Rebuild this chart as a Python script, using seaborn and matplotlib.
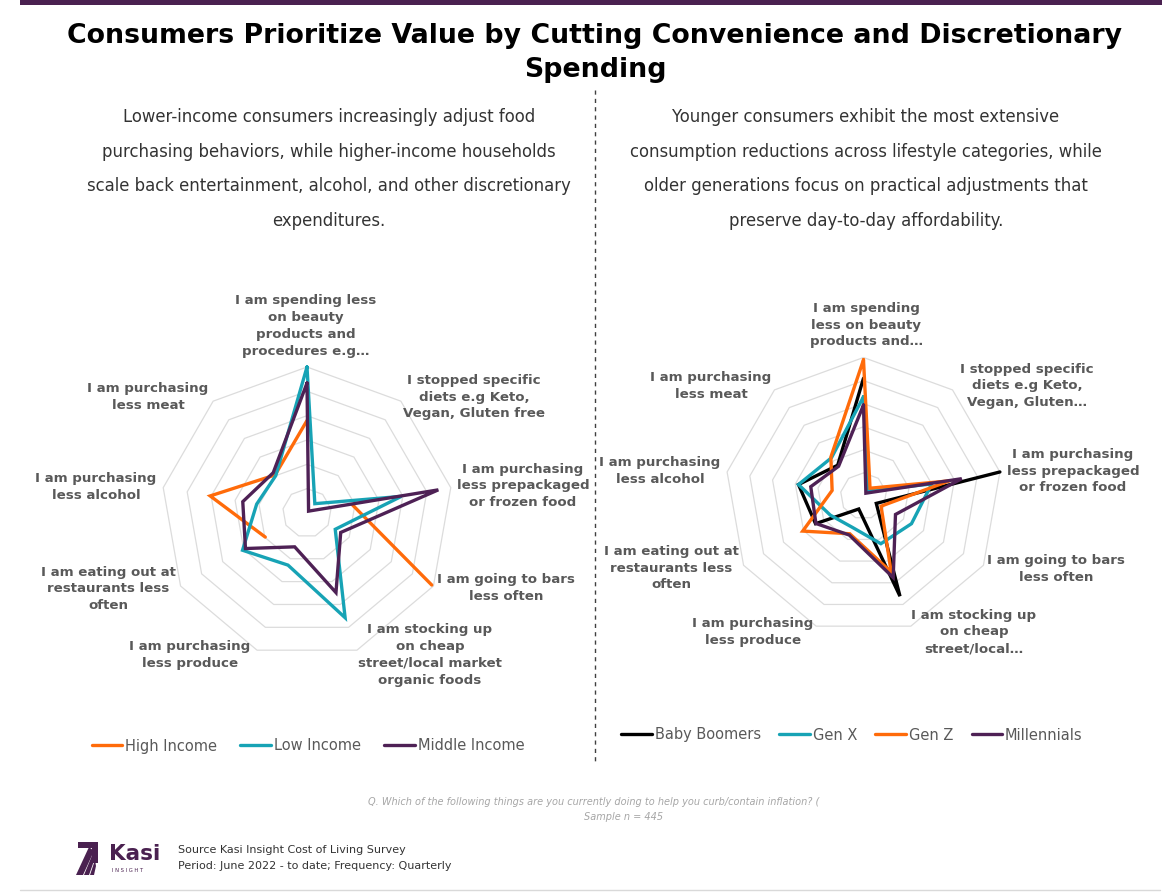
import matplotlib.pyplot as plt
import numpy as np
import seaborn as sns
from matplotlib.lines import Line2D
from matplotlib.patches import Polygon, Rectangle

W, H = 1176, 893

# categories, clockwise from the top of each radar
categories = [
    "beauty", "diets", "prepackaged", "bars", "stocking",
    "produce", "eating out", "alcohol", "meat",
]
left_labels = [
    "I am spending less\non beauty\nproducts and\nprocedures e.g…",
    "I stopped specific\ndiets e.g Keto,\nVegan, Gluten free",
    "I am purchasing\nless prepackaged\nor frozen food",
    "I am going to bars\nless often",
    "I am stocking up\non cheap\nstreet/local market\norganic foods",
    "I am purchasing\nless produce",
    "I am eating out at\nrestaurants less\noften",
    "I am purchasing\nless alcohol",
    "I am purchasing\nless meat",
]
right_labels = [
    "I am spending\nless on beauty\nproducts and…",
    "I stopped specific\ndiets e.g Keto,\nVegan, Gluten…",
    "I am purchasing\nless prepackaged\nor frozen food",
    "I am going to bars\nless often",
    "I am stocking up\non cheap\nstreet/local…",
    "I am purchasing\nless produce",
    "I am eating out at\nrestaurants less\noften",
    "I am purchasing\nless alcohol",
    "I am purchasing\nless meat",
]

# income split (blank cells in the source are NaN)
income_groups = ["High Income", "Low Income", "Middle Income"]
high_income = [19.0, np.nan, 9.5, 29.6, np.nan, np.nan, 9.9, 20.2, 10.2]
low_income = [30.0, 2.5, 19.7, 6.7, 22.9, 11.4, 15.3, 10.5, 10.0]
middle_income = [26.7, 0.5, 27.4, 8.0, 17.4, 7.4, 14.6, 13.4, 10.8]

# generation split
generations = ["Baby Boomers", "Gen X", "Gen Z", "Millennials"]
baby_boomers = [25.5, np.nan, 30.0, 3.2, 23.1, 3.0, 12.0, 14.3, 8.7]
gen_x = [21.5, 1.5, 15.0, 12.0, 11.0, 7.2, 8.3, 14.3, 10.8]
gen_z = [29.5, 2.2, 18.9, 4.4, 17.5, 8.7, 15.2, 6.9, 11.0]
millennials = [19.7, 0.8, 21.6, 8.0, 18.8, 9.0, 11.9, 11.6, 8.4]

ring_levels = [5, 10, 15, 20, 25, 30]

ORANGE = "#FF6B0A"
TEAL = "#17A3B5"
PURPLE = "#4E2155"
BLACK = "#000000"
LABEL_GREY = "#595959"
BRAND = "#4A2150"

sns.set_theme(style="white")
plt.rcParams["font.family"] = ["DejaVu Sans"]

fig = plt.figure(figsize=(W / 100, H / 100), dpi=100)
fig.patch.set_facecolor("white")


def px(x, y):
    return x / W, 1 - y / H


def radar(rect, series, names, colors):
    ax = fig.add_axes(rect, projection="polar")
    n = len(categories)
    theta = np.linspace(0, 2 * np.pi, n, endpoint=False)
    closed = np.append(theta, theta[0])
    for level in ring_levels:
        ax.plot(closed, [level] * (n + 1), color="#DCDCDC", lw=0.9, zorder=1,
                clip_on=False)
    for vals, name, color in zip(series, names, colors):
        v = np.append(vals, vals[0])
        ax.plot(closed, v, color=color, lw=2.4, label=name, zorder=3,
                clip_on=False, solid_joinstyle="miter")
    ax.set_theta_zero_location("N")
    ax.set_theta_direction(-1)
    ax.set_ylim(0, 30)
    ax.set_xticks([])
    ax.set_yticks([])
    ax.grid(False)
    ax.spines["polar"].set_visible(False)
    ax.set_facecolor("none")
    return ax


# left radar: centre (307, 513), radius 146 px
radar([161 / W, 1 - 659 / H, 292 / W, 292 / H],
      [high_income, low_income, middle_income], income_groups,
      [ORANGE, TEAL, PURPLE])
# right radar: centre (863.5, 496), radius 138.5 px
radar([725 / W, 1 - 634.5 / H, 277 / W, 277 / H],
      [baby_boomers, gen_x, gen_z, millennials], generations,
      [BLACK, TEAL, ORANGE, PURPLE])

left_label_pos = [(306, 326), (474, 397), (523, 486), (506, 588), (430, 655),
                  (190, 655), (108, 589), (96, 487), (148, 397)]
right_label_pos = [(866, 325), (1027, 386), (1073, 471), (1056, 569),
                   (974, 632), (753, 632), (671, 568), (660, 471), (711, 386)]
for labels, positions in [(left_labels, left_label_pos),
                          (right_labels, right_label_pos)]:
    for text, (x, y) in zip(labels, positions):
        fig.text(*px(x, y), text, ha="center", va="center", fontsize=9.6,
                 fontweight="bold", color=LABEL_GREY, linespacing=1.38)

# header
fig.add_artist(Rectangle(px(20, 5), 1142 / W, 5 / H, transform=fig.transFigure,
                         color=BRAND, lw=0))
fig.text(*px(595, 36), "Consumers Prioritize Value by Cutting Convenience and Discretionary",
         ha="center", va="center", fontsize=19.3, fontweight="bold", color="black")
fig.text(*px(595, 70), "Spending", ha="center", va="center", fontsize=19.3,
         fontweight="bold", color="black")

left_sub = ["Lower-income consumers increasingly adjust food",
            "purchasing behaviors, while higher-income households",
            "scale back entertainment, alcohol, and other discretionary",
            "expenditures."]
right_sub = ["Younger consumers exhibit the most extensive",
             "consumption reductions across lifestyle categories, while",
             "older generations focus on practical adjustments that",
             "preserve day-to-day affordability."]
for i, (a, b) in enumerate(zip(left_sub, right_sub)):
    y = 117 + i * 34.7
    fig.text(*px(329, y), a, ha="center", va="center", fontsize=11.9, color="#333333")
    fig.text(*px(866, y), b, ha="center", va="center", fontsize=11.9, color="#333333")

# divider
fig.add_artist(Line2D([595 / W, 595 / W], [1 - 90 / H, 1 - 765 / H],
                      transform=fig.transFigure, color="#404040", lw=1,
                      dashes=(3, 3)))

# legends
left_handles = [Line2D([], [], color=c, lw=2.4) for c in [ORANGE, TEAL, PURPLE]]
fig.legend(left_handles, income_groups, loc="center", bbox_to_anchor=px(308, 746),
           ncol=3, frameon=False, fontsize=10.5, handlelength=2.1,
           handletextpad=0.2, columnspacing=1.6, labelcolor=LABEL_GREY)
right_handles = [Line2D([], [], color=c, lw=2.4) for c in [BLACK, TEAL, ORANGE, PURPLE]]
fig.legend(right_handles, generations, loc="center", bbox_to_anchor=px(852, 735),
           ncol=4, frameon=False, fontsize=10.5, handlelength=2.1,
           handletextpad=0.2, columnspacing=1.25, labelcolor=LABEL_GREY)

# footer
fig.text(*px(594, 802),
         "Q. Which of the following things are you currently doing to help you curb/contain inflation? (",
         ha="center", va="center", fontsize=7.0, style="italic", color="#A6A6A6")
fig.text(*px(624, 817), "Sample n = 445", ha="center", va="center", fontsize=7.0,
         style="italic", color="#A6A6A6")

# Kasi logo (simplified)
logo_shapes = [
    [(78, 842), (98, 842), (98, 848), (78, 848)],
    [(92, 842), (98, 842), (98, 863), (92, 863)],
    [(76, 875), (83, 875), (94, 851), (89, 847)],
    [(84, 875), (89, 875), (95, 858), (93, 853)],
    [(90, 875), (94, 875), (96, 866), (95, 860)],
]
for shape in logo_shapes:
    fig.add_artist(Polygon([px(x, y) for x, y in shape], closed=True,
                           transform=fig.transFigure, color=BRAND, lw=0))
fig.text(*px(109, 854), "Kasi", ha="left", va="center", fontsize=15.5,
         fontweight="bold", color=BRAND)
fig.text(*px(112, 870), "I N S I G H T", ha="left", va="center", fontsize=3.8,
         color=BRAND)
fig.text(*px(178, 850), "Source Kasi Insight Cost of Living Survey", ha="left",
         va="center", fontsize=8, color="#333333")
fig.text(*px(178, 866), "Period: June 2022 - to date; Frequency: Quarterly", ha="left",
         va="center", fontsize=8, color="#333333")
fig.add_artist(Line2D([20 / W, 1160 / W], [1 - 890 / H, 1 - 890 / H],
                      transform=fig.transFigure, color="#D9D9D9", lw=1))

fig.savefig("out.png", dpi=100, facecolor="white")
